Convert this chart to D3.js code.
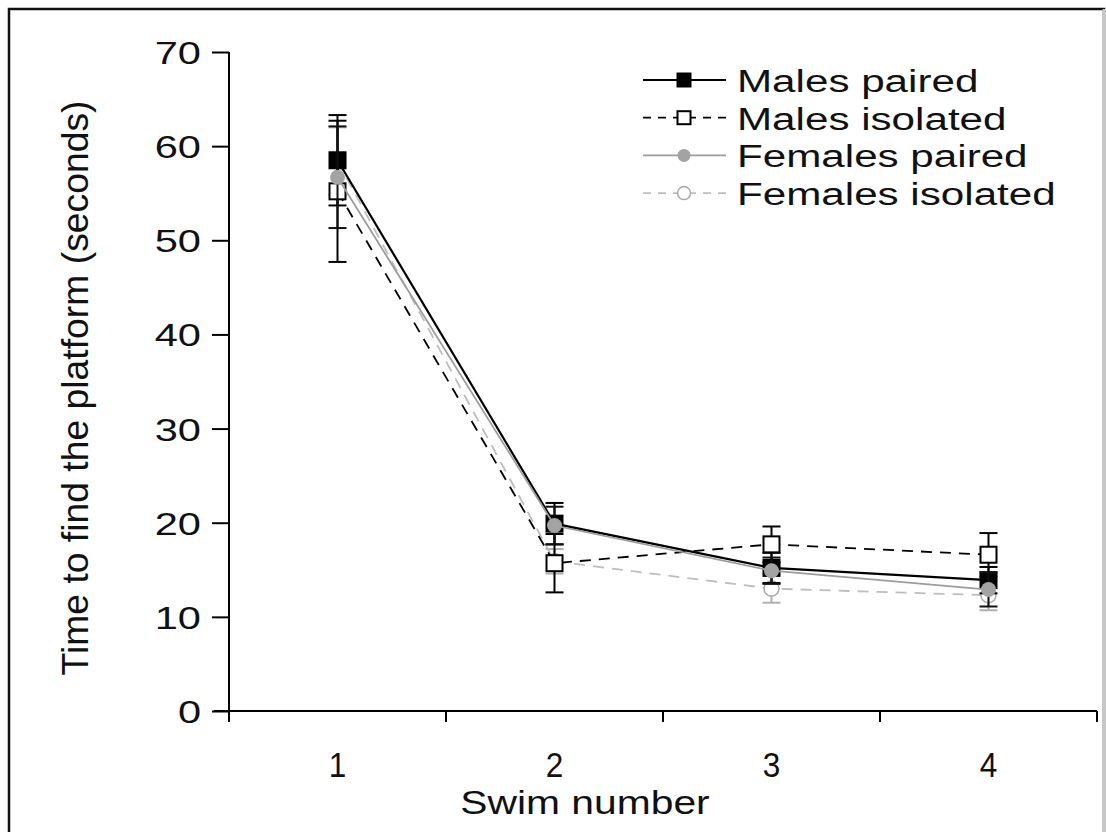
<!DOCTYPE html>
<html>
<head>
<meta charset="utf-8">
<script src="https://cdn.jsdelivr.net/npm/d3@7"></script>
<style>
  html, body { margin: 0; padding: 0; background: #fff; }
  svg { display: block; font-family: "Liberation Sans", Arial, sans-serif; }
</style>
</head>
<body>
<svg id="chart" width="1106" height="832"></svg>
<script>
// Swim trials on the x axis
const swims = ["1", "2", "3", "4"];
const yTicks = [0, 10, 20, 30, 40, 50, 60, 70];

// Mean time to find the platform (s) per swim, with standard errors
const malesPaired       = [58.5, 19.9, 15.2, 13.9];
const malesPairedErr    = [4.8, 2.2, 1.6, 1.4];
const malesIsolated     = [55.2, 15.7, 17.7, 16.6];
const malesIsolatedErr  = [7.5, 3.1, 1.9, 2.3];
const femalesPaired     = [56.7, 19.7, 14.9, 12.9];
const femalesPairedErr  = [5.4, 2.0, 1.4, 1.8];
const femalesIsolated   = [58.4, 15.9, 13.0, 12.3];
const femalesIsolatedErr = [3.6, 1.3, 1.5, 1.6];

const seriesNames = ["Males paired", "Males isolated", "Females paired", "Females isolated"];

const series = [
  { name: seriesNames[0], values: malesPaired, err: malesPairedErr,
    line: "#000", width: 2.2, dash: null, shape: "square", fill: "#000", stroke: "#000", errColor: "#000" },
  { name: seriesNames[1], values: malesIsolated, err: malesIsolatedErr,
    line: "#000", width: 1.8, dash: "11,8", shape: "square", fill: "#fff", stroke: "#000", errColor: "#000" },
  { name: seriesNames[2], values: femalesPaired, err: femalesPairedErr,
    line: "#9c9c9c", width: 1.8, dash: null, shape: "circle", fill: "#a3a3a3", stroke: "#a3a3a3", errColor: "#111" },
  { name: seriesNames[3], values: femalesIsolated, err: femalesIsolatedErr,
    line: "#bdbdbd", width: 1.8, dash: "11,8", shape: "circle", fill: "#fff", stroke: "#a8a8a8", errColor: "#b0b0b0" }
];

// plotting order: open-circle series sits underneath the others
const drawOrder = [3, 0, 1, 2];

const svg = d3.select("#chart");

// outer frame: dark left/top edges, faint right edge
svg.append("rect")
  .attr("x", 0).attr("y", 0).attr("width", 1106).attr("height", 832).attr("fill", "#fff");
svg.append("path")
  .attr("d", "M9,840V9H1104V840").attr("fill", "none")
  .attr("stroke", "#111").attr("stroke-width", 2.5);
svg.append("line").attr("x1", 1104).attr("x2", 1104).attr("y1", 9).attr("y2", 832)
  .attr("stroke", "#c8c8c8").attr("stroke-width", 3);

const x = d3.scaleBand().domain(swims).range([229, 1097]);
const y = d3.scaleLinear().domain([0, 70]).range([711, 52]);

// widen text horizontally by factor k
function stretch(sel, k) {
  sel.each(function () {
    const len = this.getComputedTextLength();
    d3.select(this).attr("textLength", len * k).attr("lengthAdjust", "spacingAndGlyphs");
  });
}

// y axis
const yAxis = svg.append("g").attr("transform", "translate(229,0)")
  .call(d3.axisLeft(y).tickValues(yTicks).tickSize(17).tickPadding(11));
yAxis.select(".domain").attr("d", "M0,52V718").attr("stroke", "#000").attr("stroke-width", 2);
yAxis.selectAll(".tick line").attr("stroke", "#000").attr("stroke-width", 2);
yAxis.selectAll(".tick text")
  .attr("font-size", 32).attr("fill", "#111").attr("font-family", "Liberation Sans, Arial, sans-serif")
  .attr("dy", "0.36em").call(stretch, 1.3);

// x axis: ticks at band edges, labels at band centres
const xAxisG = svg.append("g").attr("transform", "translate(0,711)");
xAxisG.append("line").attr("x1", 214).attr("x2", 1097).attr("y1", 0).attr("y2", 0)
  .attr("stroke", "#000").attr("stroke-width", 2);
const edges = swims.map(s => x(s)).concat([x.range()[1]]);
xAxisG.selectAll("line.edge").data(edges).join("line").attr("class", "edge")
  .attr("x1", d => d).attr("x2", d => d).attr("y1", 0).attr("y2", 11)
  .attr("stroke", "#000").attr("stroke-width", 2);
xAxisG.selectAll("text.lab").data(swims).join("text").attr("class", "lab")
  .attr("x", d => x(d) + x.bandwidth() / 2).attr("y", 66)
  .attr("text-anchor", "middle").attr("font-size", 35).attr("fill", "#111")
  .text(d => d).call(stretch, 0.9);

// axis titles
svg.append("text")
  .attr("transform", "translate(88,388) rotate(-90)")
  .attr("text-anchor", "middle").attr("font-size", 36).attr("fill", "#111")
  .attr("textLength", 575).attr("lengthAdjust", "spacingAndGlyphs")
  .text("Time to find the platform (seconds)");
svg.append("text")
  .attr("x", 585).attr("y", 814).attr("text-anchor", "middle")
  .attr("font-size", 34).attr("fill", "#111")
  .text("Swim number").call(stretch, 1.2);

const cx = i => x(swims[i]) + x.bandwidth() / 2;

function drawMarker(g, s, px, py, size) {
  if (s.shape === "square") {
    g.append("rect").attr("x", px - size / 2).attr("y", py - size / 2)
      .attr("width", size).attr("height", size)
      .attr("fill", s.fill).attr("stroke", s.stroke).attr("stroke-width", 2);
  } else {
    g.append("circle").attr("cx", px).attr("cy", py).attr("r", size / 2)
      .attr("fill", s.fill).attr("stroke", s.stroke).attr("stroke-width", s.fill === "#fff" ? 1.5 : 0);
  }
}

const line = d3.line().x((d, i) => cx(i)).y(d => y(d));

drawOrder.map(k => series[k]).forEach(s => {
  const g = svg.append("g");
  // error bars
  s.values.forEach((v, i) => {
    const px = cx(i), hi = y(v + s.err[i]), lo = y(v - s.err[i]);
    g.append("line").attr("x1", px).attr("x2", px).attr("y1", hi).attr("y2", lo)
      .attr("stroke", s.errColor).attr("stroke-width", 2);
    [hi, lo].forEach(yy => g.append("line")
      .attr("x1", px - 9).attr("x2", px + 9).attr("y1", yy).attr("y2", yy)
      .attr("stroke", s.errColor).attr("stroke-width", 2));
  });
  g.append("path").attr("d", line(s.values)).attr("fill", "none")
    .attr("stroke", s.line).attr("stroke-width", s.width)
    .attr("stroke-dasharray", s.dash);
  s.values.forEach((v, i) => drawMarker(g, s, cx(i), y(v), s.shape === "square" ? 16 : 15));
});

// legend
const legend = svg.append("g");
series.forEach((s, i) => {
  const ly = 80 + i * 37.7;
  const g = legend.append("g");
  g.append("line").attr("x1", 643).attr("x2", 726).attr("y1", ly).attr("y2", ly)
    .attr("stroke", s.line).attr("stroke-width", s.width)
    .attr("stroke-dasharray", s.dash ? "8,7" : null);
  drawMarker(g, s, 684, ly, 13);
  g.append("text").attr("x", 737).attr("y", ly + 12)
    .attr("font-size", 31).attr("fill", "#111").text(s.name).call(stretch, 1.36);
});
</script>
</body>
</html>
